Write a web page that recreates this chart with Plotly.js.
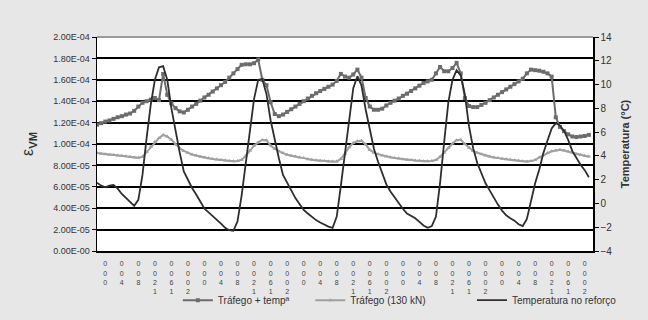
<!DOCTYPE html>
<html>
<head>
<meta charset="utf-8">
<script src="https://cdn.plot.ly/plotly-3.0.1.min.js"></script>
<style>html,body{margin:0;padding:0;background:#e7e7e7;}#chart{width:648px;height:320px;}</style>
</head>
<body>
<div id="chart"></div>
<script>
// hours (0 = 0:00 of day 1)
const hours = [-2,-1,0,1,2,3,4,5,6,7,8,9,10,11,12,13,14,15,16,17,18,19,20,21,22,23,24,25,26,27,28,29,30,31,32,33,34,35,36,37,38,39,40,41,42,43,44,45,46,47,48,49,50,51,52,53,54,55,56,57,58,59,60,61,62,63,64,65,66,67,68,69,70,71,72,73,74,75,76,77,78,79,80,81,82,83,84,85,86,87,88,89,90,91,92,93,94,95,96,97,98,99,100,101,102,103,104,105,106,107,108,109,110,111,112,113,114,115,116,117];

// Tráfego + tempª (units of 1e-5)
const trafTemp = [11.8,11.95,12.1,12.2,12.35,12.5,12.6,12.75,12.85,13.1,13.5,13.85,
 14.0,14.15,14.3,14.1,16.55,14.6,13.8,13.35,13.05,12.95,
 13.2,13.5,13.75,14.05,14.35,14.6,14.9,15.2,15.5,15.8,
 16.2,16.6,17.0,17.4,17.45,17.45,17.55,17.9,16.0,15.5,
 13.9,12.8,12.6,12.75,13.0,13.25,13.5,13.75,14.0,14.25,
 14.5,14.75,14.95,15.15,15.35,15.55,15.9,16.55,16.3,16.2,
 16.5,16.95,16.2,14.3,13.5,13.2,13.2,13.3,13.6,13.85,
 14.05,14.25,14.5,14.7,14.95,15.2,15.45,15.7,15.85,16.0,
 16.6,17.2,16.8,16.8,17.1,17.58,16.6,14.3,13.55,13.45,
 13.45,13.65,13.85,14.1,14.35,14.6,14.85,15.1,15.35,15.6,
 15.85,16.1,16.6,16.95,16.9,16.85,16.75,16.6,16.3,12.5,
 11.6,11.2,10.9,10.7,10.65,10.7,10.75,10.85];

// Tráfego (130 kN) (units of 1e-5)
const traf130 = [9.15,9.1,9.05,9.0,8.97,8.93,8.9,8.85,8.8,8.75,8.72,8.8,
 9.25,9.75,10.2,10.55,10.85,10.7,10.4,9.95,9.6,9.35,
 9.15,9.02,8.92,8.82,8.73,8.67,8.6,8.55,8.5,8.46,
 8.42,8.38,8.42,8.52,8.9,9.4,9.85,10.15,10.38,10.35,
 9.85,9.55,9.32,9.15,9.0,8.9,8.83,8.75,8.68,8.58,
 8.52,8.47,8.43,8.4,8.37,8.36,8.37,8.6,9.1,9.7,
 10.1,10.25,10.3,9.95,9.45,9.2,9.05,8.93,8.83,8.76,
 8.7,8.64,8.58,8.53,8.5,8.46,8.43,8.39,8.38,8.42,
 8.5,8.8,9.2,9.65,10.05,10.35,10.4,10.0,9.65,9.35,
 9.18,9.05,8.93,8.83,8.75,8.68,8.62,8.57,8.52,8.48,
 8.43,8.38,8.37,8.4,8.5,8.75,8.95,9.15,9.32,9.4,
 9.46,9.4,9.3,9.18,9.05,8.97,8.9,8.83];

// Temperatura no reforço (°C)
const tempRef = [1.75,1.5,1.35,1.5,1.55,1.25,0.8,0.45,0.1,-0.2,0.3,2.4,
 5.5,8.3,10.4,11.45,11.55,10.4,8.0,6.0,4.3,2.7,
 1.95,1.3,0.75,0.1,-0.45,-0.75,-1.05,-1.4,-1.7,-2.05,
 -2.25,-2.3,-1.5,0.7,3.2,6.1,8.8,10.4,10.45,9.2,
 7.0,5.3,3.8,2.4,1.75,1.05,0.45,-0.05,-0.55,-0.85,
 -1.15,-1.4,-1.6,-1.8,-1.95,-2.05,-1.1,1.5,4.3,7.2,
 9.7,10.7,9.9,7.9,6.1,4.6,3.5,2.5,1.6,1.0,
 0.5,-0.05,-0.45,-0.85,-1.05,-1.25,-1.55,-1.85,-2.05,-1.9,
 -1.1,1.7,5.2,8.5,10.4,11.2,10.8,9.15,6.5,4.65,
 3.4,2.5,1.7,1.1,0.45,-0.1,-0.6,-1.0,-1.25,-1.45,
 -1.75,-1.9,-1.3,0.25,1.7,2.85,4.25,5.3,6.3,6.75,
 6.55,6.1,5.35,4.4,3.8,3.25,2.8,2.2];

const xTickVals = [0,4,8,12,16,20,24,28,32,36,40,44,48,52,56,60,64,68,72,76,80,84,88,92,96,100,104,108,112,116];
const dayLabels = ['0<br>0<br>0','0<br>0<br>4','0<br>0<br>8','0<br>0<br>2<br>1','0<br>0<br>6<br>1','0<br>0<br>0<br>2'];
const xTickText = [].concat(dayLabels,dayLabels,dayLabels,dayLabels,dayLabels);

const leftTickVals = [0,2,4,6,8,10,12,14,16,18,20];
const leftTickText = ['0.00E-00','2.00E-05','4.00E-05','6.00E-05','8.00E-05','1.00E-04','1.20E-04','1.40E-04','1.60E-04','1.80E-04','2.00E-04'];
const rightTickVals = [-4,-2,0,2,4,6,8,10,12,14];

const names = ['Tráfego + tempª','Tráfego (130 kN)','Temperatura no reforço'];

const traces = [
  {x:hours, y:trafTemp, name:names[0], type:'scatter', mode:'lines+markers',
   line:{color:'#6c6c6c', width:2}, marker:{symbol:'square', size:4, color:'#6c6c6c'}, legend:'legend'},
  {x:hours, y:traf130, name:names[1], type:'scatter', mode:'lines+markers',
   line:{color:'#a0a0a0', width:2}, marker:{symbol:'triangle-up', size:4, color:'#a0a0a0'}, legend:'legend2'},
  {x:hours, y:tempRef, name:names[2], type:'scatter', mode:'lines', yaxis:'y2',
   line:{color:'#2e2e2e', width:1.8}, legend:'legend3'}
];

const legBase = {orientation:'h', yanchor:'top', xanchor:'left', y:-0.162, bgcolor:'rgba(0,0,0,0)', font:{size:10, color:'#333'}};

const layout = {
  width:648, height:320,
  paper_bgcolor:'#e7e7e7', plot_bgcolor:'#ffffff',
  margin:{l:97, r:55, t:37, b:69, autoexpand:false},
  font:{family:'Liberation Sans, Arial, sans-serif', color:'#333', size:9},
  xaxis:{range:[-2,118], tickmode:'array', tickvals:xTickVals, ticktext:xTickText, automargin:false,
    showgrid:false, zeroline:false, showline:true, linecolor:'#000', linewidth:2,
    ticks:'', tickfont:{size:7, color:'#444'}, ticklabelstandoff:5},
  yaxis:{range:[0,20], tickmode:'array', tickvals:leftTickVals, ticktext:leftTickText, automargin:false,
    showgrid:true, gridcolor:'#000', gridwidth:2, zeroline:false,
    showline:true, linecolor:'#000', linewidth:1.5, ticks:'outside', ticklen:4, tickcolor:'#000',
    tickfont:{size:9, color:'#333'},
    title:{text:'ε<b><sub>VM</sub></b>', font:{size:16, color:'#333'}, standoff:15}},
  yaxis2:{overlaying:'y', side:'right', range:[-4,14], tickmode:'array', tickvals:rightTickVals, automargin:false,
    showgrid:false, zeroline:false, showline:true, linecolor:'#000', linewidth:1.5,
    ticks:'outside', ticklen:4, tickcolor:'#000', tickfont:{size:10, color:'#333'},
    title:{text:'<b>Temperatura (°C)</b>', font:{size:11, color:'#333'}, standoff:10}},
  showlegend:true,
  legend:Object.assign({}, legBase, {x:0.163}),
  legend2:Object.assign({}, legBase, {x:0.43}),
  legend3:Object.assign({}, legBase, {x:0.756}),
  shapes:[{type:'line', xref:'paper', yref:'paper', x0:0, x1:1, y0:1, y1:1, line:{color:'#9a9a9a', width:2}, layer:'above'}]
};

Plotly.newPlot('chart', traces, layout, {displayModeBar:false, staticPlot:true});
</script>
</body>
</html>
